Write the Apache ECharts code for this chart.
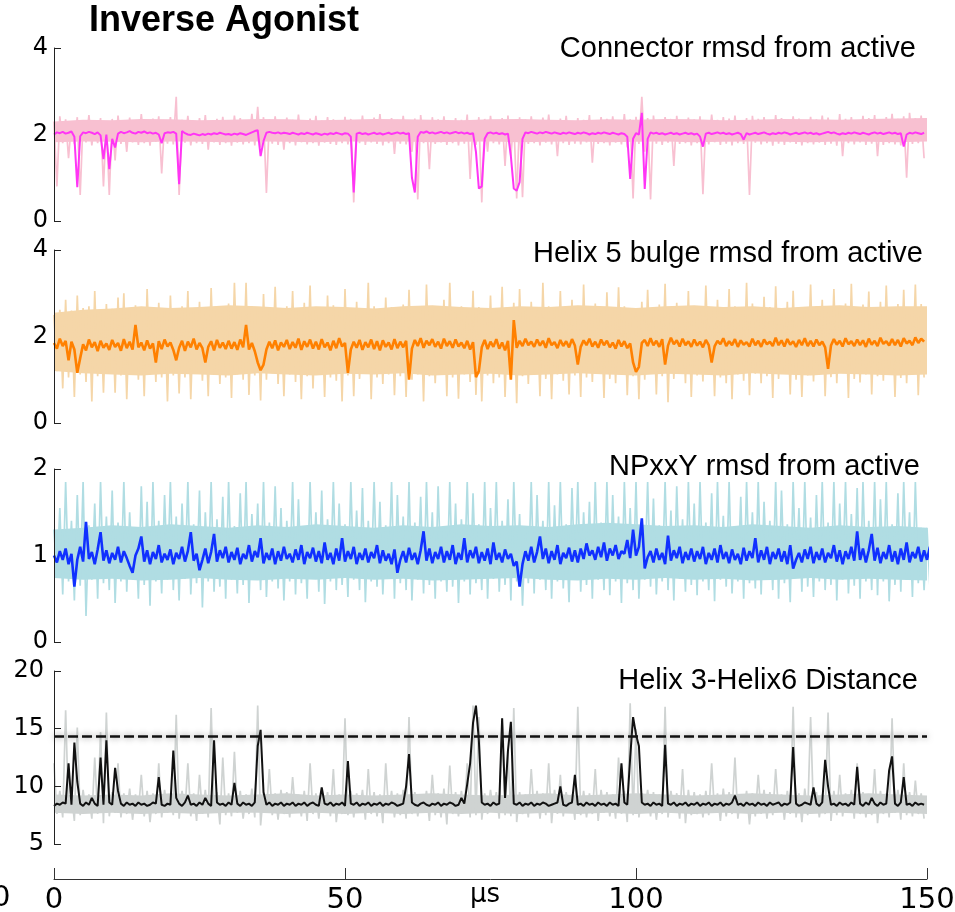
<!DOCTYPE html>
<html>
<head>
<meta charset="utf-8">
<title>Inverse Agonist</title>
<script src="https://cdn.jsdelivr.net/npm/echarts@6/dist/echarts.min.js"></script>
<style>
html,body{margin:0;padding:0;background:#fff;}
#main{width:955px;height:912px;}
</style>
</head>
<body>
<div id="main"></div>
<script>
// time axis (microseconds)
const xTicks = [0, 50, 100, 150];
const darkStep = 0.5;   // smoothed trace, one value every 0.5 us
const rawStep = 1;      // raw trace, a high and a low sample per 1 us
const coreStep = 5;     // dense part of the raw trace, read every 5 us

// Connector rmsd from active
const connectorTicks = [0, 2, 4];
const connectorDark = [
  2.0,2.05,2.03,2.06,2.02,2.04,2.07,1.95,0.78,1.96,2.05,2.03,2.06,2.04,2.01,2.05,1.98,1.43,2.0,1.2,
  1.9,1.7,2.02,2.06,2.03,2.05,2.08,2.04,2.02,2.06,2.04,2.07,2.03,2.05,2.02,2.04,2.0,1.8,2.03,2.05,
  2.04,2.06,2.02,0.85,2.08,2.03,2.0,1.99,2.02,2.0,1.98,2.01,1.99,2.02,2.0,2.03,2.01,2.04,2.02,2.0,
  2.01,1.99,2.02,2.0,2.03,2.01,1.99,2.02,2.05,2.08,2.1,1.5,1.85,2.04,2.06,2.04,2.03,2.05,2.02,2.04,
  2.03,2.01,2.04,2.02,2.0,2.03,2.01,2.04,2.02,2.0,2.03,2.01,1.99,2.02,2.0,2.03,2.01,2.04,2.02,2.0,
  2.03,2.02,1.95,0.66,2.02,2.04,2.01,2.03,2.0,2.02,2.04,2.01,2.03,2.0,2.02,2.04,2.01,2.03,2.05,2.02,
  2.04,2.01,2.03,1.0,0.66,1.95,2.06,2.04,2.07,2.03,2.05,2.02,2.04,2.06,2.03,2.05,2.02,2.04,2.06,2.03,
  2.05,2.02,2.04,2.01,2.03,1.6,0.75,0.8,1.9,2.03,2.05,2.02,2.04,2.01,2.03,2.0,2.02,1.5,0.75,0.7,
  0.9,1.9,2.05,2.03,2.06,2.04,2.02,2.05,2.03,2.06,2.04,2.02,2.05,2.03,2.01,2.04,2.02,2.05,2.03,2.01,
  2.04,2.02,2.05,2.03,2.0,2.03,2.01,2.04,2.02,2.05,2.03,2.01,2.04,2.02,2.0,2.03,2.01,1.95,0.97,1.9,
  2.03,2.0,2.5,0.74,1.9,2.05,2.02,2.04,2.01,2.03,2.0,2.02,2.04,2.01,2.03,2.0,2.02,2.04,2.01,2.03,
  2.0,2.02,1.95,1.72,2.02,2.04,2.01,2.03,2.05,2.02,2.04,2.01,2.03,2.0,2.02,2.04,2.01,1.88,2.03,2.0,
  2.02,2.04,2.01,2.03,2.05,2.02,2.0,2.03,2.01,2.04,2.02,2.05,2.03,2.0,2.02,2.04,2.01,2.03,2.05,2.02,
  2.04,2.01,2.03,2.0,2.02,2.04,2.06,2.03,2.05,2.02,2.0,2.03,2.01,2.04,2.02,2.05,2.03,2.01,2.04,2.02,
  2.0,2.03,2.05,2.02,2.04,2.01,2.03,2.05,2.02,2.04,2.01,2.03,1.72,2.0,2.04,2.02,2.05,2.03,2.01,2.04
];
const connectorRawHi = [
  2.3,2.42,2.35,2.28,2.4,2.33,2.45,2.3,2.38,2.27,
  2.36,2.44,2.3,2.39,2.33,2.47,2.31,2.37,2.42,2.29,
  2.4,2.87,2.34,2.43,2.3,2.38,2.45,2.32,2.36,2.41,
  2.33,2.44,2.38,2.3,2.48,2.64,2.4,2.35,2.42,2.31,
  2.39,2.34,2.46,2.3,2.37,2.43,2.32,2.4,2.35,2.29,
  2.41,2.36,2.3,2.44,2.33,2.39,2.47,2.31,2.38,2.34,
  2.43,2.3,2.37,2.45,2.32,2.4,2.35,2.42,2.3,2.38,
  2.34,2.46,2.31,2.4,2.36,2.43,2.3,2.38,2.44,2.33,
  2.4,2.35,2.42,2.31,2.39,2.46,2.33,2.37,2.43,2.3,
  2.38,2.34,2.45,2.32,2.4,2.36,2.42,2.31,2.47,2.35,
  2.41,2.87,2.38,2.44,2.33,2.4,2.36,2.43,2.31,2.39,
  2.35,2.42,2.3,2.46,2.34,2.4,2.37,2.44,2.32,2.38,
  2.43,2.36,2.4,2.31,2.45,2.38,2.34,2.42,2.37,2.3,
  2.41,2.35,2.44,2.39,2.32,2.47,2.36,2.4,2.33,2.43,
  2.38,2.45,2.34,2.4,2.48,2.36,2.42,2.5,2.38,2.44
];
const connectorRawLo = [
  0.8,1.8,1.45,1.78,0.6,1.82,1.75,1.8,0.8,0.6,
  1.4,1.78,1.6,1.82,1.76,1.8,1.74,1.83,1.1,1.79,
  1.77,0.6,1.81,1.75,1.8,1.78,1.65,1.82,1.76,1.8,
  1.74,1.81,1.77,1.8,1.75,1.7,0.65,1.79,1.76,1.65,
  1.8,1.75,1.82,1.77,1.8,1.74,1.81,1.78,1.76,1.8,
  1.77,0.43,1.8,1.76,1.82,1.78,1.75,1.8,1.55,1.79,
  1.77,1.6,0.5,1.8,1.2,1.78,1.82,1.76,1.8,1.75,
  1.79,0.97,1.76,0.43,1.6,1.8,1.77,1.27,1.5,0.52,
  0.55,1.78,1.8,1.75,1.81,1.77,1.5,1.8,1.76,1.79,
  1.77,1.82,1.35,1.78,1.8,1.75,1.81,1.77,1.7,0.52,
  1.78,1.6,0.5,1.79,1.76,1.81,1.27,1.78,1.8,1.75,
  1.8,0.62,1.77,1.82,1.76,1.79,1.75,1.8,1.78,0.6,
  1.81,1.77,1.8,1.74,1.79,1.76,1.82,1.78,1.75,1.8,
  1.77,1.81,1.76,1.79,1.74,1.5,1.8,1.77,1.82,1.76,
  1.79,1.5,1.76,1.8,1.77,1.75,1.0,1.78,1.8,1.45
];
const connectorCoreHi = [2.3,2.34,2.33,2.36,2.35,2.33,2.34,2.36,2.35,2.33,2.34,2.36,2.35,2.34,2.33,2.35,
  2.36,2.34,2.33,2.35,2.34,2.36,2.35,2.33,2.34,2.36,2.35,2.34,2.36,2.37,2.38];
const connectorCoreLo = [1.82,1.84,1.83,1.82,1.84,1.83,1.82,1.84,1.83,1.82,1.84,1.83,1.84,1.82,1.83,1.84,
  1.82,1.83,1.84,1.82,1.83,1.84,1.82,1.83,1.84,1.83,1.82,1.84,1.83,1.82,1.84];

// Helix 5 bulge rmsd from active
const bulgeTicks = [0, 2, 4];
const bulgeDark = [
  1.85,1.72,1.95,1.78,1.9,1.45,1.88,1.7,1.16,1.5,1.82,1.68,1.93,1.75,1.87,1.66,1.9,1.74,1.84,1.69,
  1.92,1.76,1.85,1.67,1.94,1.73,1.88,1.7,2.27,1.75,1.86,1.68,1.91,1.72,1.84,1.4,1.89,1.71,1.93,1.77,
  1.86,1.69,1.45,1.74,1.9,1.67,1.88,1.75,1.95,1.7,1.85,1.73,1.4,1.76,1.89,1.68,1.92,1.74,1.86,1.71,
  1.9,1.72,1.87,1.69,1.93,1.75,2.27,1.7,1.85,1.66,1.4,1.22,1.35,1.7,1.88,1.73,1.91,1.68,1.86,1.76,
  1.92,1.71,1.87,1.74,1.95,1.69,1.89,1.76,1.93,1.72,1.88,1.7,1.94,1.75,1.86,1.68,1.9,1.73,1.96,1.77,
  1.85,1.16,1.7,1.88,1.74,1.92,1.69,1.87,1.75,1.93,1.71,1.89,1.68,1.91,1.76,1.86,1.7,1.94,1.73,1.88,
  1.75,1.9,1.0,1.72,1.92,1.78,1.96,1.74,1.9,1.8,1.94,1.76,1.88,1.72,1.95,1.78,1.89,1.74,1.93,1.77,
  1.86,1.73,1.9,1.7,1.87,1.06,1.2,1.75,1.92,1.71,1.88,1.76,1.94,1.72,1.86,1.68,1.9,1.0,2.38,1.74,
  1.9,1.78,1.95,1.8,1.88,1.76,1.93,1.79,1.9,1.74,1.96,1.8,1.87,1.73,1.92,1.78,1.89,1.75,1.94,1.79,
  1.35,1.76,1.91,1.8,1.95,1.77,1.88,1.74,1.93,1.8,1.9,1.75,1.86,1.72,1.92,1.77,1.89,1.73,1.84,1.4,
  1.18,1.3,1.85,1.92,1.78,1.96,1.8,1.9,1.76,1.94,1.35,1.79,1.97,1.82,1.91,1.77,1.95,1.8,1.89,1.76,
  1.93,1.79,1.88,1.75,1.92,1.8,1.4,1.77,1.9,1.82,1.96,1.78,1.89,1.8,1.94,1.76,1.91,1.81,1.87,1.77,
  1.95,1.8,1.9,1.76,1.93,1.82,1.88,1.78,1.97,1.8,1.91,1.77,1.94,1.81,1.89,1.76,1.92,1.8,1.96,1.78,
  1.9,1.77,1.93,1.8,1.88,1.75,1.25,1.79,1.94,1.81,1.9,1.77,1.96,1.82,1.89,1.78,1.93,1.8,1.91,1.76,
  1.95,1.81,1.9,1.78,1.97,1.83,1.89,1.79,1.94,1.8,1.92,1.77,1.96,1.84,1.9,1.8,1.98,1.85,1.95,1.88
];
const bulgeRawHi = [
  2.5,2.62,2.85,2.6,2.95,2.66,2.7,3.05,2.58,2.75,
  2.64,2.9,3.0,2.6,2.72,2.68,3.1,2.6,2.78,2.65,
  2.95,2.62,2.7,3.05,2.6,2.8,2.66,3.12,2.7,2.6,
  2.76,3.24,2.64,3.24,2.7,2.6,2.98,2.68,3.15,2.62,
  2.7,3.05,2.6,2.78,3.18,2.65,2.6,2.95,2.72,2.62,
  3.1,2.66,2.8,2.6,3.24,2.7,2.62,2.9,2.68,2.6,
  2.74,3.08,2.6,2.7,3.2,2.64,2.6,2.85,3.24,2.66,
  2.7,2.6,3.06,2.68,2.58,2.95,2.66,3.15,2.62,2.78,
  3.1,2.64,2.8,2.6,3.24,2.7,2.62,3.05,2.66,2.85,
  2.6,3.2,2.7,2.76,2.6,3.02,2.66,3.14,2.7,2.6,
  2.55,2.8,3.08,2.64,2.74,3.22,2.62,2.78,2.6,3.05,
  2.7,2.6,3.18,2.66,2.85,2.62,3.1,2.7,2.64,3.24,
  2.76,2.6,2.92,2.68,3.16,2.62,2.8,3.06,2.66,2.6,
  3.2,2.7,2.85,2.6,3.1,2.66,2.76,3.22,2.62,2.74,
  3.04,2.64,2.8,3.18,2.6,2.75,3.08,2.68,3.2,2.75
];
const bulgeRawLo = [
  1.2,0.8,1.05,0.6,1.12,0.95,0.5,1.08,0.7,1.15,
  0.7,1.1,0.55,1.15,1.0,0.62,1.12,0.95,1.05,0.5,
  1.1,0.68,1.05,0.55,1.15,0.98,0.62,1.12,0.9,1.05,
  0.58,1.12,1.0,0.65,1.1,0.52,1.0,1.15,0.9,0.62,
  1.12,0.95,0.55,1.08,0.8,1.15,0.6,1.05,0.98,0.5,
  1.1,0.62,1.02,1.15,0.55,1.05,0.9,1.12,0.64,1.08,
  0.6,1.0,1.12,0.5,1.08,0.92,1.15,0.62,1.05,0.56,
  1.12,0.95,0.65,0.5,1.1,0.92,1.05,0.6,1.15,0.46,
  1.08,0.9,1.15,0.62,1.02,0.55,1.12,0.98,0.66,1.1,
  0.6,1.05,0.95,1.15,0.58,1.02,0.92,1.12,0.64,1.08,
  0.55,1.0,1.15,0.66,1.08,0.48,1.02,1.15,0.92,0.6,
  1.1,0.96,1.16,0.62,1.05,0.92,0.55,1.12,0.98,0.64,
  1.14,0.92,1.08,0.58,1.02,1.16,0.66,1.0,0.6,1.1,
  0.96,1.12,0.62,1.06,0.92,1.16,0.58,1.02,0.94,1.12,
  0.66,1.08,0.98,1.14,0.6,1.04,0.92,1.16,0.64,1.05
];
const bulgeCoreHi = [2.55,2.62,2.65,2.7,2.66,2.68,2.72,2.7,2.66,2.7,2.68,2.65,2.7,2.72,2.68,2.66,
  2.7,2.68,2.72,2.7,2.66,2.7,2.72,2.68,2.7,2.66,2.7,2.72,2.68,2.7,2.7];
const bulgeCoreLo = [1.2,1.15,1.12,1.1,1.14,1.12,1.1,1.15,1.12,1.1,1.14,1.12,1.15,1.1,1.12,1.14,
  1.1,1.12,1.15,1.12,1.1,1.14,1.12,1.1,1.15,1.12,1.1,1.14,1.12,1.1,1.12];

// NPxxY rmsd from active (this trace runs a little past 150 us)
const npxxyTicks = [0, 1, 2];
const npxxyDark = [
  1.0,0.92,1.05,0.95,1.08,0.9,1.02,0.64,0.95,1.1,0.93,1.39,0.96,1.04,0.9,1.07,1.27,0.94,1.06,0.91,
  1.03,0.95,1.1,0.92,1.05,0.97,0.88,0.8,1.0,1.08,1.22,0.93,1.06,0.9,1.04,0.96,1.12,0.92,1.02,0.95,
  1.07,0.9,1.03,0.96,1.1,0.93,1.05,1.27,0.94,1.02,0.83,0.95,1.08,0.91,1.04,1.25,0.93,1.06,0.97,1.1,
  0.92,1.04,0.95,1.09,0.9,1.02,0.96,1.12,0.93,1.05,0.98,1.2,0.91,1.03,0.95,1.08,0.9,1.05,0.94,1.1,
  0.96,1.02,0.92,1.07,0.95,1.12,0.9,1.04,0.97,1.09,0.93,1.05,0.91,1.15,0.95,1.03,0.9,1.08,0.94,1.2,
  0.93,1.05,0.96,1.1,0.9,1.03,0.95,1.08,0.92,1.04,0.97,1.12,0.91,1.06,0.94,1.02,0.9,1.07,0.8,0.95,
  1.05,0.92,1.09,0.95,1.03,0.9,1.06,1.28,0.94,1.08,0.91,1.04,0.96,1.1,0.92,1.05,0.95,1.12,0.9,1.03,
  0.95,1.2,0.92,1.06,0.97,1.1,0.91,1.04,0.94,1.08,0.9,1.15,0.95,1.03,0.92,1.07,0.96,1.02,0.88,0.93,
  0.64,0.9,1.05,0.94,1.1,0.92,1.04,1.22,0.96,1.08,0.91,1.05,0.95,1.12,0.9,1.03,0.97,1.09,0.93,1.06,
  0.92,1.08,0.96,1.14,1.0,1.06,0.95,1.1,0.98,1.15,0.94,1.08,1.0,1.12,0.96,1.05,1.02,1.18,0.97,1.3,
  1.0,1.1,1.43,0.85,0.98,1.05,0.92,1.08,0.95,1.03,0.9,1.23,0.94,1.06,0.97,1.1,0.91,1.04,0.95,1.08,
  0.93,1.05,0.96,1.1,0.9,1.03,0.95,1.08,0.92,1.12,0.96,1.04,0.91,1.07,0.95,1.02,0.9,1.09,0.94,1.05,
  0.97,1.2,0.92,1.06,0.95,1.1,0.9,1.04,0.96,1.08,0.93,1.05,0.9,1.12,0.85,0.95,1.03,0.92,1.07,0.96,
  1.1,0.91,1.04,0.95,1.08,0.92,1.03,0.97,1.12,0.93,1.06,0.9,1.05,0.96,1.1,0.94,1.28,0.95,1.08,0.92,
  1.06,1.25,0.94,1.09,0.91,1.04,0.96,1.12,0.93,1.05,0.9,1.08,0.95,1.15,0.92,1.04,0.97,1.1,0.93,1.06,
  0.95,1.1,0.92,1.25
];
const npxxyRawHi = [
  1.3,1.55,1.85,1.4,1.7,1.85,1.35,1.6,1.85,1.45,
  1.75,1.38,1.85,1.5,1.32,1.8,1.62,1.85,1.4,1.7,
  1.85,1.45,1.6,1.85,1.36,1.75,1.5,1.85,1.42,1.68,
  1.85,1.34,1.72,1.85,1.48,1.6,1.85,1.38,1.8,1.55,
  1.4,1.85,1.65,1.33,1.85,1.5,1.75,1.42,1.85,1.6,
  1.36,1.85,1.52,1.78,1.4,1.85,1.62,1.35,1.85,1.7,
  1.45,1.85,1.38,1.68,1.85,1.5,1.8,1.34,1.85,1.6,
  1.42,1.85,1.72,1.36,1.85,1.55,1.85,1.4,1.65,1.85,
  1.48,1.33,1.85,1.7,1.4,1.85,1.58,1.85,1.36,1.78,
  1.85,1.5,1.62,1.85,1.38,1.85,1.7,1.45,1.85,1.55,
  1.85,1.4,1.85,1.66,1.35,1.85,1.52,1.8,1.42,1.85,
  1.6,1.85,1.38,1.72,1.85,1.46,1.85,1.34,1.68,1.85,
  1.5,1.85,1.62,1.4,1.85,1.75,1.36,1.85,1.55,1.85,
  1.44,1.7,1.85,1.38,1.85,1.6,1.85,1.48,1.78,1.85,
  1.4,1.85,1.65,1.85,1.36,1.72,1.85,1.5,1.85,1.32,
  1.32,1.32
];
const npxxyRawLo = [
  0.75,0.55,0.7,0.48,0.65,0.3,0.72,0.5,0.68,0.6,
  0.45,0.7,0.58,0.74,0.5,0.66,0.42,0.7,0.56,0.72,
  0.6,0.48,0.73,0.55,0.68,0.4,0.7,0.58,0.64,0.5,
  0.72,0.56,0.66,0.45,0.74,0.6,0.52,0.7,0.62,0.48,
  0.7,0.55,0.68,0.5,0.73,0.58,0.44,0.7,0.6,0.66,
  0.52,0.72,0.6,0.46,0.7,0.64,0.55,0.74,0.5,0.68,
  0.6,0.48,0.72,0.56,0.66,0.5,0.7,0.58,0.64,0.45,
  0.7,0.55,0.68,0.6,0.5,0.73,0.58,0.66,0.48,0.7,
  0.42,0.68,0.56,0.72,0.6,0.5,0.7,0.62,0.46,0.74,
  0.58,0.66,0.5,0.72,0.6,0.54,0.7,0.45,0.68,0.6,
  0.5,0.72,0.64,0.55,0.7,0.6,0.48,0.73,0.58,0.66,
  0.54,0.7,0.6,0.47,0.72,0.64,0.56,0.7,0.5,0.68,
  0.62,0.55,0.72,0.6,0.5,0.68,0.46,0.74,0.58,0.64,
  0.52,0.7,0.6,0.66,0.48,0.72,0.56,0.65,0.5,0.7,
  0.6,0.54,0.7,0.47,0.66,0.58,0.72,0.52,0.68,0.6,
  0.64,0.66
];
const npxxyCoreHi = [1.3,1.32,1.35,1.33,1.36,1.34,1.32,1.35,1.33,1.36,1.34,1.32,1.35,1.33,1.36,1.34,
  1.35,1.33,1.36,1.38,1.36,1.34,1.35,1.33,1.36,1.34,1.32,1.35,1.33,1.34,1.32];
const npxxyCoreLo = [0.74,0.72,0.73,0.71,0.72,0.74,0.72,0.71,0.73,0.72,0.74,0.72,0.73,0.71,0.72,0.73,
  0.74,0.72,0.71,0.73,0.72,0.74,0.72,0.73,0.71,0.72,0.74,0.72,0.73,0.72,0.71];

// Helix 3-Helix6 Distance
const distanceTicks = [5, 10, 15, 20];
const distanceThreshold = 14.37;
const distanceDark = [
  8.3,8.5,8.4,8.6,8.5,12.0,8.4,13.8,10.4,8.5,8.3,8.6,8.4,9.0,8.5,8.3,12.5,8.4,14.0,8.6,
  8.4,11.6,9.6,8.5,8.3,8.6,8.4,8.5,8.3,8.6,8.4,8.5,8.3,8.4,8.6,8.5,10.8,8.4,8.3,8.5,
  8.4,13.1,9.0,8.5,8.3,8.6,9.2,8.4,8.5,8.3,8.6,8.4,9.0,8.5,8.3,14.0,8.6,8.4,8.5,8.3,
  8.6,8.4,10.3,8.5,8.3,8.6,8.4,8.5,8.3,8.6,13.5,14.9,9.5,8.4,8.6,8.3,8.5,8.4,8.6,8.3,
  8.5,8.4,8.6,8.3,8.5,8.4,8.6,8.3,8.5,8.6,8.4,8.3,9.9,8.5,8.4,8.6,8.3,8.5,8.4,8.6,
  8.3,12.2,8.5,8.4,8.6,8.3,8.5,8.4,8.6,8.3,8.5,8.4,8.6,8.3,8.5,8.4,8.6,8.5,8.3,8.4,
  8.5,10.0,12.8,8.6,8.4,8.3,8.5,8.6,8.4,8.3,8.5,8.4,8.6,8.3,8.5,8.4,8.6,8.5,8.3,8.4,
  9.0,8.5,10.2,12.0,15.5,17.0,14.0,8.6,8.4,8.5,8.3,8.6,8.4,8.5,15.9,9.0,13.1,15.6,8.5,8.4,
  8.6,8.3,8.5,8.4,8.6,8.3,8.5,8.4,8.6,8.5,8.3,8.4,8.5,8.6,10.0,8.4,8.3,8.5,8.6,11.0,
  8.4,8.5,8.3,8.6,8.4,8.5,8.3,8.6,8.4,8.5,8.3,8.6,8.4,8.5,8.3,12.0,8.6,8.4,12.5,16.0,
  14.5,13.5,8.6,8.4,8.5,8.3,8.6,8.4,8.5,8.3,13.6,8.5,8.4,8.6,8.3,8.5,8.4,8.6,8.3,8.5,
  8.4,8.6,8.3,8.5,8.4,8.6,8.3,8.5,8.4,8.6,8.3,8.5,8.4,8.6,9.2,8.4,8.5,8.3,8.6,8.4,
  8.5,8.3,8.6,8.4,8.5,8.3,8.6,8.4,8.5,8.6,8.3,8.5,8.4,8.6,13.4,8.5,8.3,8.4,8.6,8.5,
  8.4,9.9,8.5,8.3,8.6,12.3,10.0,8.4,8.5,8.3,8.6,8.4,8.5,8.3,8.6,8.4,11.7,8.5,8.3,8.6,
  8.4,9.0,8.5,8.3,8.6,8.4,8.5,11.4,12.6,8.5,8.3,8.6,10.8,8.4,8.5,8.3,8.6,8.4,8.5,8.4
];
const distanceRawHi = [
  12.0,9.6,16.6,9.4,15.1,9.7,9.3,12.5,14.7,16.4,
  9.5,12.0,9.4,9.8,9.3,11.0,9.6,9.4,12.0,9.7,
  9.3,16.2,9.6,12.0,9.4,11.0,9.7,16.8,9.5,12.5,
  9.4,13.0,9.6,9.3,9.8,17.0,9.5,11.5,9.4,9.7,
  9.5,10.8,9.3,9.6,12.0,9.4,9.8,9.5,11.5,9.3,
  15.9,9.6,9.4,9.7,11.5,9.5,9.3,12.0,9.6,9.4,
  9.7,16.0,9.5,9.3,9.6,11.0,9.4,9.8,11.8,9.5,
  9.6,12.0,17.0,16.0,9.4,9.7,9.5,15.9,13.0,16.8,
  9.5,9.3,11.5,9.6,9.4,12.0,9.7,11.0,9.5,9.3,
  16.9,9.6,9.4,11.5,9.7,9.5,9.3,12.5,9.6,17.2,
  15.0,9.4,9.7,9.5,9.3,16.9,9.6,9.4,11.5,9.7,
  9.5,9.3,9.6,12.0,9.4,9.8,9.5,12.5,9.3,9.6,
  9.4,11.0,9.7,9.5,11.5,9.3,9.6,16.9,9.4,9.8,
  16.0,9.5,9.3,16.4,9.6,11.0,9.4,9.7,12.0,9.5,
  9.3,11.5,9.6,9.4,15.9,9.7,12.0,9.5,10.5,9.4
];
const distanceRawLo = [
  7.6,7.3,7.8,7.0,7.5,7.7,7.2,7.6,6.8,7.4,
  7.7,7.3,7.6,7.1,7.8,7.4,6.9,7.6,7.3,7.7,
  7.5,7.2,7.8,7.4,7.0,7.6,7.3,7.7,6.7,7.5,
  7.4,7.7,7.2,7.6,7.3,6.6,7.8,7.5,7.1,7.6,
  7.3,7.7,7.4,7.0,7.6,7.2,7.8,7.4,6.9,7.6,
  7.5,7.3,7.7,7.1,7.6,7.4,6.8,7.7,7.3,7.5,
  7.2,7.6,7.4,7.8,7.0,7.5,7.3,6.7,7.6,7.4,
  7.7,7.3,7.5,7.1,7.6,7.8,7.2,7.5,7.4,6.9,
  7.6,7.3,7.7,7.2,7.5,6.8,7.6,7.4,7.7,7.1,
  7.5,7.3,7.6,7.0,7.7,7.4,7.2,7.6,6.9,7.5,
  7.3,7.7,7.4,7.1,7.6,7.3,7.8,7.2,6.8,7.5,
  7.6,7.3,7.5,7.7,7.0,7.4,7.6,7.2,7.7,6.7,
  7.4,7.6,7.2,7.5,7.8,7.1,7.6,7.3,6.9,7.5,
  7.7,7.3,7.6,7.0,7.5,7.4,7.7,7.2,7.6,7.3,
  7.5,6.8,7.6,7.3,7.7,7.1,7.5,7.4,7.6,7.2
];
const distanceCoreHi = [9.3,9.2,9.3,9.2,9.4,9.3,9.2,9.3,9.4,9.2,9.3,9.2,9.3,9.4,9.3,9.2,
  9.3,9.4,9.2,9.3,9.4,9.3,9.2,9.3,9.4,9.3,9.2,9.3,9.4,9.3,9.2];
const distanceCoreLo = [7.7,7.6,7.7,7.6,7.7,7.6,7.7,7.7,7.6,7.7,7.6,7.7,7.6,7.7,7.6,7.7,
  7.6,7.7,7.6,7.7,7.6,7.7,7.6,7.7,7.6,7.7,7.6,7.7,7.6,7.7,7.6];

function darkPoints(vals) {
  return vals.map((v, i) => [i * darkStep, v]);
}
function corePoints(vals) {
  return vals.map((v, i) => [i * coreStep, v]);
}
// raw trace: high sample then low sample inside each step
function rawPoints(hi, lo) {
  const pts = [];
  hi.forEach((v, i) => {
    pts.push([i * rawStep, v]);
    pts.push([i * rawStep + rawStep / 2, lo[i]]);
  });
  return pts;
}

const panels = [
  { title: 'Connector rmsd from active', top: 48, min: 0, max: 4, labels: connectorTicks, ticks: [0, 4],
    dark: connectorDark, hi: connectorRawHi, lo: connectorRawLo, coreHi: connectorCoreHi, coreLo: connectorCoreLo,
    light: '#F8C0D1', color: '#FF35F5', titleRight: 39, titleTop: 34, labelSize: 24, darkWidth: 2 },
  { title: 'Helix 5 bulge rmsd from active', top: 250, min: 0, max: 4, labels: bulgeTicks, ticks: [0, 4],
    dark: bulgeDark, hi: bulgeRawHi, lo: bulgeRawLo, coreHi: bulgeCoreHi, coreLo: bulgeCoreLo,
    light: '#F5D6A8', color: '#FF8000', titleRight: 32, titleTop: 239, labelSize: 24, darkWidth: 2.6 },
  { title: 'NPxxY rmsd from active', top: 469, min: 0, max: 2, labels: npxxyTicks, ticks: [0, 2],
    dark: npxxyDark, hi: npxxyRawHi, lo: npxxyRawLo, coreHi: npxxyCoreHi, coreLo: npxxyCoreLo,
    light: '#B0DDE3', color: '#1030FF', titleRight: 35, titleTop: 452, labelSize: 24, darkWidth: 2.6 },
  { title: 'Helix 3-Helix6 Distance', top: 671, min: 5, max: 20, labels: distanceTicks, ticks: distanceTicks,
    dark: distanceDark, hi: distanceRawHi, lo: distanceRawLo, coreHi: distanceCoreHi, coreLo: distanceCoreLo,
    light: '#CFD3D2', color: '#111111', titleRight: 37, titleTop: 666, labelSize: 24, darkWidth: 2 }
];

const grids = [], xAxes = [], yAxes = [], series = [], graphics = [];
panels.forEach((p, k) => {
  const last = k === panels.length - 1;
  grids.push({ left: 54, width: 873, top: p.top, height: 173, outerBoundsMode: 'none' });
  xAxes.push({
    gridIndex: k, type: 'value', min: 0, max: 150, interval: 50, show: last,
    offset: last ? 35 : 0,
    axisLine: { show: true, onZero: false, lineStyle: { color: '#333', width: 1 } },
    axisTick: { show: true, inside: true, length: 11, lineStyle: { color: '#333' } },
    axisLabel: { show: true, fontSize: 29, margin: 7, color: '#000', fontFamily: 'DejaVu Sans',
      customValues: xTicks },
    splitLine: { show: false }
  });
  yAxes.push({
    gridIndex: k, type: 'value', min: p.min, max: p.max, z: 10,
    axisLine: { show: true, lineStyle: { color: '#222', width: 1 } },
    axisTick: { show: true, inside: true, length: 7, customValues: p.ticks, lineStyle: { color: '#222' } },
    axisLabel: { show: true, customValues: p.labels, fontSize: p.labelSize, color: '#000',
      fontFamily: 'DejaVu Sans', margin: last ? 10 : 6 },
    splitLine: { show: false }
  });
  // dense core of the raw trace: fill up to coreHi, then blank out below coreLo
  series.push({
    type: 'line', xAxisIndex: k, yAxisIndex: k, z: 1, data: corePoints(p.coreHi),
    showSymbol: false, symbol: 'none', silent: true, lineStyle: { width: 0, opacity: 0 },
    areaStyle: { color: p.light, opacity: 1, origin: 'start' }
  });
  series.push({
    type: 'line', xAxisIndex: k, yAxisIndex: k, z: 1.5, data: corePoints(p.coreLo),
    showSymbol: false, symbol: 'none', silent: true, lineStyle: { width: 0, opacity: 0 },
    areaStyle: { color: '#ffffff', opacity: 1, origin: 'start' }
  });
  series.push({
    type: 'line', xAxisIndex: k, yAxisIndex: k, data: rawPoints(p.hi, p.lo),
    showSymbol: false, symbol: 'none', clip: false, silent: true, z: 2,
    lineStyle: { color: p.light, width: 1.7, join: 'bevel' }
  });
  const dark = {
    type: 'line', xAxisIndex: k, yAxisIndex: k, data: darkPoints(p.dark),
    showSymbol: false, symbol: 'none', clip: false, silent: true, z: 3,
    lineStyle: { color: p.color, width: p.darkWidth, join: 'bevel' }
  };
  if (last) {
    dark.markLine = {
      silent: true, symbol: 'none', label: { show: false },
      data: [{ yAxis: distanceThreshold }],
      lineStyle: { type: [10, 4], width: 2.5, color: '#111',
        shadowBlur: 6, shadowColor: 'rgba(110,110,110,0.8)' }
    };
  }
  series.push(dark);
  graphics.push({
    type: 'text', right: p.titleRight, top: p.titleTop, z: 10,
    style: { text: p.title, font: '29px "Liberation Sans"', fill: '#000' }
  });
});

graphics.push({
  type: 'text', left: 470, top: 882,
  style: { text: 'μs', font: '26px "DejaVu Sans"', fill: '#000' }
});
graphics.push({
  type: 'text', left: -8, top: 884,
  style: { text: '0', font: '29px "DejaVu Sans"', fill: '#000' }
});

const chart = echarts.init(document.getElementById('main'));
chart.setOption({
  animation: false,
  backgroundColor: '#fff',
  title: {
    text: 'Inverse Agonist', left: 89, top: 3, padding: 0,
    textStyle: { fontSize: 36, fontWeight: 'bold', color: '#000', fontFamily: 'Liberation Sans' }
  },
  grid: grids,
  xAxis: xAxes,
  yAxis: yAxes,
  series: series,
  graphic: graphics
});
</script>
</body>
</html>
